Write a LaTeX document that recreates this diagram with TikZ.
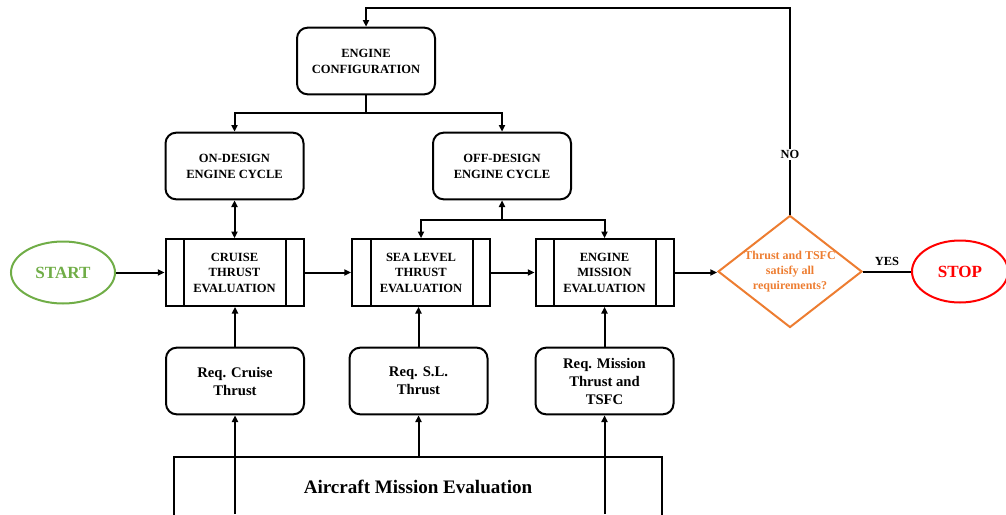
\documentclass[tikz,border=0pt]{standalone}
\usepackage{fontspec}
\setmainfont{Liberation Serif}
\usetikzlibrary{arrows.meta,shapes.geometric}

\definecolor{startgreen}{RGB}{112,173,71}
\definecolor{decorange}{RGB}{237,125,49}
\definecolor{stopred}{RGB}{255,0,0}

\begin{document}
\begin{tikzpicture}[x=0.75pt,y=0.75pt,yscale=-1,xscale=1,
  line width=1.5pt,
  arrow/.style={-{Triangle[length=5pt,width=4.5pt]}},
  dblarrow/.style={{Triangle[length=5pt,width=4.5pt]}-{Triangle[length=5pt,width=4.5pt]}},
  roundbox/.style={draw, rounded corners=8pt, minimum width=103.5pt, minimum height=50pt, align=center, font=\fontsize{9.4}{12}\selectfont\bfseries},
  reqbox/.style={draw, rounded corners=8pt, minimum width=103.5pt, minimum height=50pt, align=center, font=\fontsize{11}{13.5}\selectfont\bfseries},
  procbox/.style={draw, minimum width=103.5pt, minimum height=50pt, align=center, font=\fontsize{9.4}{11.6}\selectfont\bfseries,
    path picture={
      \draw ([xshift=14pt]path picture bounding box.south west) -- ([xshift=14pt]path picture bounding box.north west);
      \draw ([xshift=-13pt]path picture bounding box.south east) -- ([xshift=-13pt]path picture bounding box.north east);
    }},
  term/.style={ellipse, draw, line width=1.5pt, font=\fontsize{12.8}{14}\selectfont\bfseries}
]
\useasboundingbox (0,0) rectangle (1006,514);

%Top boxes
\node [roundbox] (config) at (366,61) {ENGINE\\CONFIGURATION};
\node [roundbox] (ondes) at (234.5,166) {ON-DESIGN\\ENGINE CYCLE};
\node [roundbox] (offdes) at (502,166) {OFF-DESIGN\\ENGINE CYCLE};

%Evaluation row
\node [term, draw=startgreen, text=startgreen, minimum width=78pt, minimum height=46.5pt] (start) at (63,272.5) {START};
\node [procbox] (cruise) at (234.5,272.5) {CRUISE\\THRUST\\EVALUATION};
\node [procbox] (sealvl) at (421,272.5) {SEA LEVEL\\THRUST\\EVALUATION};
\node [procbox] (mission) at (604.5,272.5) {ENGINE\\MISSION\\EVALUATION};
\node [diamond, aspect=1.29, draw=decorange, text=decorange, inner sep=-4pt, minimum width=108pt, minimum height=84pt, align=center, font=\fontsize{9}{11.5}\selectfont\bfseries] (dec) at (790,271.5) {Thrust and TSFC\\satisfy all\\requirements?};
\node [term, draw=stopred, text=stopred, minimum width=72pt, minimum height=46.5pt] (stop) at (960,271.5) {STOP};

%Requirement boxes
\node [reqbox] (reqcr) at (235,381) {Req. Cruise\\Thrust};
\node [reqbox] (reqsl) at (418.5,381) {Req. S.L.\\Thrust};
\node [reqbox] (reqmi) at (604.5,381) {Req. Mission\\Thrust and\\TSFC};

%Mission box
\node [draw, minimum width=366pt, minimum height=45pt, font=\fontsize{14.3}{16}\selectfont\bfseries] (acm) at (418,487) {Aircraft Mission Evaluation};

%Connectors
\coordinate (cfgsplit) at (366,113);
\draw (config.south) -- (cfgsplit);
\draw [arrow] (cfgsplit) -| (ondes.north);
\draw [arrow] (cfgsplit) -| (offdes.north);
\draw [dblarrow] (ondes.south) -- (cruise.north);

\coordinate (offsplit) at (502,220);
\draw [arrow] (offsplit) -- (offdes.south);
\draw [arrow] (offsplit) -| (sealvl.north);
\draw [arrow] (offsplit) -| (mission.north);

\draw [arrow] (start.east) -- (cruise.west);
\draw [arrow] (cruise.east) -- (sealvl.west);
\draw [arrow] (sealvl.east) -- (mission.west);
\draw [arrow] (mission.east) -- (mission.east -| dec.west);
\draw (dec.east) -- node [above, font=\fontsize{9.3}{11}\selectfont\bfseries] {YES} (stop.west);

\coordinate (noturn) at (790,8);
\draw [arrow] (dec.north) -- node [fill=white, inner sep=1pt, pos=0.29, font=\fontsize{9.3}{11}\selectfont\bfseries] {NO} (noturn) -| (config.north);

\draw [arrow] (reqcr.north) -- (reqcr.north |- cruise.south);
\draw [arrow] (reqsl.north) -- (reqsl.north |- sealvl.south);
\draw [arrow] (reqmi.north) -- (reqmi.north |- mission.south);

\coordinate (botcr) at (235,514);
\coordinate (botmi) at (604.5,514);
\draw [arrow] (botcr) -- (reqcr.south);
\draw [arrow] (reqsl.south |- acm.north) -- (reqsl.south);
\draw [arrow] (botmi) -- (reqmi.south);

\end{tikzpicture}
\end{document}
